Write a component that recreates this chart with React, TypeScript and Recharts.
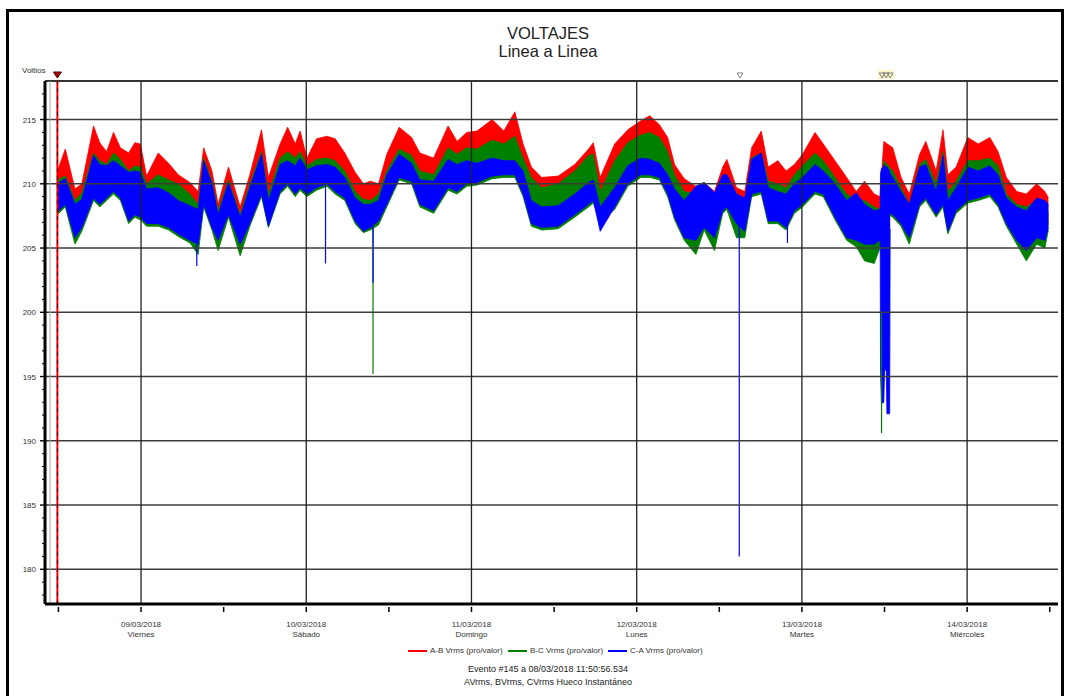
import React from 'react';
import { ComposedChart, Area, Line, XAxis, YAxis, ReferenceLine } from 'recharts';

// hours counted from 08/03/2018 00:00
const hours = [
  11.85, 13.0, 14.4, 15.4, 17.1, 18.0, 19.0, 20.0, 21.0, 22.2,
  23.1, 23.9, 24.8, 26.5, 28.0, 29.4, 31.1, 32.3, 33.1, 34.3,
  35.2, 36.7, 38.4, 39.8, 41.5, 42.5, 44.2, 45.3, 46.4, 47.1,
  48.1, 49.5, 51.0, 52.2, 53.6, 55.1, 56.3, 57.3, 58.5, 59.7,
  61.5, 63.3, 64.5, 66.5, 68.6, 69.9, 71.3, 72.8, 75.0, 76.7,
  78.3, 79.5, 80.7, 82.2, 84.6, 87.0, 89.0, 89.7, 90.7, 92.8,
  94.7, 96.6, 97.9, 99.3, 100.5, 101.5, 102.9, 104.6, 105.8, 107.3,
  108.5, 109.1, 110.5, 111.7, 112.7, 114.1, 115.1, 116.5, 117.7, 118.9,
  120.1, 121.9, 123.1, 124.8, 126.5, 127.9, 129.1, 130.5, 131.35, 131.9,
  133.2, 134.4, 135.6, 137.1, 138.0, 139.5, 140.5, 141.2, 142.4, 144.1,
  145.6, 147.3, 148.5, 149.7, 151.2, 152.6, 154.1, 155.3, 155.8,
];

// A-B envelope
const abHigh = [
  211.0, 212.7, 209.6, 210.0, 214.5, 213.2, 212.5, 214.0, 212.8, 212.4,
  213.2, 213.1, 210.6, 212.4, 211.6, 210.7, 210.1, 209.4, 212.8, 211.0,
  208.4, 211.3, 208.2, 210.7, 214.2, 210.5, 213.1, 214.4, 213.1, 214.1,
  212.0, 213.5, 213.7, 213.5, 212.4, 210.9, 210.0, 210.2, 210.0, 212.3,
  214.4, 213.6, 212.4, 212.0, 214.5, 213.3, 214.0, 214.1, 215.0, 214.1,
  215.6, 213.1, 211.3, 210.5, 210.6, 211.5, 212.7, 213.2, 210.5, 213.1,
  214.2, 214.9, 215.3, 214.6, 213.6, 211.5, 210.4, 209.8, 210.1, 209.4,
  211.3, 211.9, 209.7, 209.4, 212.8, 214.1, 211.3, 211.8, 211.0, 211.5,
  212.3, 214.0, 213.1, 211.8, 210.5, 209.4, 210.2, 209.2, 209.0, 213.3,
  212.8, 210.5, 209.2, 212.3, 213.3, 211.0, 214.2, 210.7, 211.3, 213.6,
  213.1, 213.6, 212.5, 210.5, 209.4, 209.2, 210.0, 209.4, 208.9,
];
const abLow = [
  209.6, 209.9, 208.0, 208.5, 211.6, 211.0, 210.8, 211.6, 211.1, 210.2,
  210.6, 210.5, 209.2, 209.9, 209.5, 209.2, 208.4, 207.6, 211.2, 209.4,
  207.1, 209.5, 206.8, 209.2, 211.7, 208.4, 211.2, 211.7, 211.2, 211.7,
  210.6, 211.1, 211.2, 211.0, 210.2, 208.6, 208.0, 207.9, 208.4, 210.2,
  211.9, 211.4, 210.2, 209.9, 212.0, 211.5, 212.0, 211.9, 212.6, 212.3,
  212.9, 211.2, 209.7, 208.9, 209.2, 210.2, 211.4, 211.5, 208.6, 211.0,
  212.4, 213.0, 213.2, 212.8, 211.7, 209.9, 208.6, 208.4, 208.6, 207.8,
  209.7, 209.9, 208.4, 207.9, 211.2, 211.6, 209.4, 209.2, 208.9, 209.9,
  210.6, 211.6, 211.0, 209.7, 208.4, 207.9, 207.9, 207.4, 207.2, 211.0,
  210.2, 208.9, 207.6, 210.7, 211.1, 209.2, 211.7, 208.6, 209.4, 211.0,
  211.0, 211.2, 210.6, 208.4, 207.6, 207.4, 207.9, 207.9, 206.8,
];

// B-C envelope
const bcHigh = [
  210.3, 210.6, 208.7, 209.3, 212.4, 211.8, 211.5, 212.4, 211.9, 211.0,
  211.4, 211.3, 210.0, 210.7, 210.3, 210.0, 209.2, 208.4, 212.0, 210.2,
  207.9, 210.3, 207.6, 210.0, 212.5, 209.2, 212.0, 212.5, 212.0, 212.5,
  211.4, 211.9, 212.0, 211.8, 211.0, 209.4, 208.8, 208.7, 209.2, 211.0,
  212.7, 212.2, 211.0, 210.7, 212.8, 212.3, 212.8, 212.7, 213.4, 213.1,
  213.7, 212.0, 210.5, 209.7, 210.0, 211.0, 212.2, 212.3, 209.4, 211.8,
  213.2, 213.8, 214.0, 213.6, 212.5, 210.7, 209.4, 209.2, 209.4, 208.6,
  210.5, 210.7, 209.2, 208.7, 212.0, 212.4, 210.2, 210.0, 209.7, 210.7,
  211.4, 212.4, 211.8, 210.5, 209.2, 208.7, 208.7, 208.2, 208.0, 211.8,
  211.0, 209.7, 208.4, 211.5, 211.9, 210.0, 212.5, 209.4, 210.2, 211.8,
  211.8, 212.0, 211.4, 209.2, 208.4, 208.2, 208.7, 208.7, 207.6,
];
const bcLow = [
  207.6, 208.2, 205.3, 206.3, 208.7, 208.2, 208.7, 209.2, 208.7, 206.9,
  207.4, 207.2, 206.7, 206.7, 206.4, 205.9, 205.4, 204.5, 208.2, 206.4,
  204.8, 207.4, 204.4, 206.7, 209.0, 206.6, 209.2, 209.8, 209.0, 209.5,
  209.0, 209.5, 209.8, 209.2, 208.7, 206.9, 206.2, 206.4, 206.8, 208.2,
  210.3, 210.0, 208.2, 207.7, 209.5, 209.2, 209.8, 209.9, 210.4, 210.5,
  210.5, 209.0, 206.7, 206.4, 206.5, 207.4, 208.2, 208.5, 207.1, 208.0,
  209.8, 210.5, 210.5, 210.3, 209.0, 207.2, 205.6, 204.5, 206.4, 204.8,
  207.7, 208.0, 205.8, 205.8, 209.0, 209.2, 206.9, 206.9, 206.4, 207.7,
  208.2, 209.2, 209.0, 207.2, 205.6, 205.1, 204.0, 203.8, 205.0, 207.8,
  207.4, 206.7, 205.3, 208.2, 208.7, 207.4, 208.2, 206.1, 207.7, 208.5,
  208.7, 209.0, 208.2, 206.7, 205.3, 204.0, 205.3, 205.0, 206.4,
];

// C-A envelope
const caHigh = [
  210.0, 210.4, 208.4, 208.8, 212.2, 211.5, 211.4, 211.8, 211.4, 210.9,
  211.0, 210.9, 209.6, 209.7, 209.3, 208.7, 208.3, 208.0, 211.8, 210.0,
  207.6, 210.1, 207.4, 209.7, 212.3, 208.7, 211.5, 211.8, 211.4, 212.0,
  211.1, 211.4, 211.5, 211.3, 210.5, 208.9, 208.4, 208.4, 208.7, 210.7,
  212.3, 211.6, 210.3, 210.2, 211.9, 211.5, 211.8, 211.6, 212.0, 211.8,
  211.8, 211.0, 208.7, 208.2, 208.3, 209.2, 210.1, 210.3, 208.2, 209.7,
  211.4, 212.0, 211.9, 211.6, 210.7, 209.6, 208.7, 209.8, 210.1, 209.3,
  210.7, 210.7, 209.2, 208.9, 211.9, 212.4, 209.7, 209.4, 209.2, 210.0,
  210.5, 211.5, 211.0, 210.0, 208.7, 209.3, 208.4, 207.9, 208.0, 211.5,
  210.5, 209.4, 208.4, 211.3, 211.5, 209.4, 212.2, 208.7, 209.7, 211.3,
  211.0, 211.4, 210.7, 208.9, 208.2, 207.9, 208.9, 208.7, 208.4,
];
const caLow = [
  207.8, 208.4, 205.8, 206.6, 208.9, 208.4, 208.9, 209.4, 208.9, 207.1,
  207.6, 207.4, 206.9, 206.9, 206.6, 206.1, 205.6, 205.3, 208.4, 206.6,
  205.6, 207.6, 205.3, 206.9, 209.2, 206.7, 209.4, 210.0, 209.2, 209.7,
  209.2, 209.7, 210.0, 209.4, 208.9, 207.1, 206.3, 206.6, 207.1, 208.4,
  210.5, 210.2, 208.4, 207.9, 209.7, 209.4, 210.0, 210.1, 210.6, 210.7,
  210.7, 209.2, 206.9, 206.6, 206.7, 207.6, 208.4, 208.7, 206.3, 208.2,
  210.0, 210.7, 210.7, 210.5, 209.2, 207.4, 205.8, 205.6, 206.6, 205.8,
  207.9, 208.2, 206.9, 206.3, 209.2, 209.4, 207.1, 207.1, 206.6, 207.9,
  208.4, 209.4, 209.2, 207.4, 205.8, 205.6, 205.3, 205.3, 205.6, 208.0,
  207.6, 206.9, 205.8, 208.4, 208.9, 207.6, 208.4, 206.3, 207.9, 208.7,
  208.9, 209.2, 208.4, 206.9, 205.6, 204.8, 205.8, 205.6, 206.6,
];

// C-A sag on 13/03 evening
const caDipHours = [131.37, 131.42, 131.55, 131.9, 132.0, 132.25, 132.35, 132.75, 132.82];
const caDipLow = [206.0, 195.5, 192.9, 193.0, 195.5, 195.5, 192.1, 192.1, 206.5];
const caDipHigh = [208.5, 210.8, 211.2, 211.3, 211.3, 211.3, 211.3, 211.0, 210.5];

// single-sample drops: [hour, from, to]
const bcSpikes = [
  [57.7, 207.0, 195.2],
  [131.57, 200.0, 190.6],
];
const caSpikes = [
  [32.1, 207.0, 203.6],
  [50.8, 210.0, 203.8],
  [57.7, 208.0, 202.3],
  [110.9, 207.5, 181.0],
  [117.9, 207.0, 205.4],
];

const halfDayTicks = [12, 24, 36, 48, 60, 72, 84, 96, 108, 120, 132, 144, 156];
const dayTicks = [24, 48, 72, 96, 120, 144];
const dayDates = ['09/03/2018', '10/03/2018', '11/03/2018', '12/03/2018', '13/03/2018', '14/03/2018'];
const dayNames = ['Viernes', 'Sábado', 'Domingo', 'Lunes', 'Martes', 'Miércoles'];
const voltGrid = [180, 185, 190, 195, 200, 205, 210, 215];
const voltTicks = Array.from({ length: 40 }, (_, i) => 178 + i);

const eventHour = 11.85;
const markerHours = [111.0, 131.66, 132.24, 132.82];
const glowHours = [131.66, 132.24, 132.82];

const series = [
  { key: 'ab', name: 'A-B Vrms (pro/valor)', color: '#ff0000' },
  { key: 'bc', name: 'B-C Vrms (pro/valor)', color: '#008000' },
  { key: 'ca', name: 'C-A Vrms (pro/valor)', color: '#0000ff' },
];

const bandRows = hours.map((t, i) => ({
  t,
  ab: [abLow[i], abHigh[i]],
  bc: [bcLow[i], bcHigh[i]],
  ca: [caLow[i], caHigh[i]],
}));
const dipRows = caDipHours.map((t, i) => ({ t, ca: [caDipLow[i], caDipHigh[i]] }));

const FONT = '"Liberation Sans", Arial, sans-serif';

function VoltTick(props: any) {
  const { x, y, payload } = props;
  const major = payload.value % 5 === 0;
  return (
    <g>
      <line x1={major ? x - 5 : x - 3} x2={x} y1={y} y2={y} stroke="#000" strokeWidth={major ? 1.4 : 1} />
      {major && (
        <text x={x - 9} y={y + 3} textAnchor="end" fontSize={8} fill="#333" fontFamily={FONT}>
          {payload.value}
        </text>
      )}
    </g>
  );
}

function TimeTick(props: any) {
  const { x, y, payload } = props;
  const idx = dayTicks.indexOf(payload.value);
  return (
    <g>
      <line x1={x} x2={x} y1={y + 3} y2={y + 8} stroke="#000" strokeWidth={1.5} />
      {idx >= 0 && (
        <text x={x} y={y + 23} textAnchor="middle" fontSize={8} fill="#333" fontFamily={FONT}>
          {dayDates[idx]}
        </text>
      )}
      {idx >= 0 && (
        <text x={x} y={y + 33} textAnchor="middle" fontSize={8} fill="#333" fontFamily={FONT}>
          {dayNames[idx]}
        </text>
      )}
    </g>
  );
}

function EventMark(props: any) {
  const vb = props.viewBox || {};
  const x = vb.x;
  const y = vb.y;
  return <path d={`M${x - 4},${y - 9} L${x + 4},${y - 9} L${x},${y - 3} Z`} fill="#b00000" stroke="#400" strokeWidth={1} />;
}

function GlowMark(props: any) {
  const vb = props.viewBox || {};
  return <rect x={vb.x - 4} y={vb.y - 11} width={8} height={9} fill="#fdf6c8" />;
}

function GrayMark(props: any) {
  const vb = props.viewBox || {};
  const x = vb.x;
  const y = vb.y;
  return <path d={`M${x - 3},${y - 8} L${x + 3},${y - 8} L${x},${y - 3} Z`} fill="none" stroke="#808080" strokeWidth={1} />;
}

export default function App() {
  return (
    <div style={{ position: 'fixed', left: 0, top: 0, width: 1068, height: 696, background: '#fff', overflow: 'hidden', fontFamily: FONT }}>
      <div style={{ position: 'absolute', left: 6, top: 9, width: 1058, height: 720, border: '3px solid #000', boxSizing: 'border-box' }} />
      <div style={{ position: 'absolute', left: 398, top: 24, width: 300, textAlign: 'center', fontSize: 16.5, lineHeight: '18px', color: '#222' }}>
        <div>VOLTAJES</div>
        <div>Linea a Linea</div>
      </div>
      <div style={{ position: 'absolute', left: 22, top: 66, fontSize: 8, color: '#333' }}>Voltios</div>

      <div style={{ position: 'absolute', left: 0, top: 0 }}>
        <ComposedChart width={1068} height={696} margin={{ top: 81, right: 10, bottom: 52, left: 0 }}>
          <XAxis
            dataKey="t"
            type="number"
            domain={[10.05, 157.2]}
            ticks={halfDayTicks}
            interval={0}
            allowDataOverflow
            height={40}
            tickSize={0}
            tickMargin={0}
            tickLine={false}
            axisLine={{ stroke: '#000', strokeWidth: 3 }}
            tick={<TimeTick />}
          />
          <YAxis
            type="number"
            domain={[177.3, 218]}
            ticks={voltTicks}
            interval={0}
            allowDataOverflow
            width={45}
            tickSize={0}
            tickMargin={0}
            tickLine={false}
            axisLine={{ stroke: '#000', strokeWidth: 3 }}
            tick={<VoltTick />}
          />

          {series.map((s) => (
            <Area
              key={s.key}
              data={bandRows}
              type="linear"
              dataKey={s.key}
              stroke={s.color}
              strokeWidth={0.8}
              fill={s.color}
              fillOpacity={1}
              dot={false}
              activeDot={false}
              isAnimationActive={false}
            />
          ))}
          {bcSpikes.map(([t, a, b], i) => (
            <Line
              key={`bc-${i}`}
              data={[{ t, v: a }, { t, v: b }]}
              dataKey="v"
              stroke="#008000"
              strokeWidth={1.2}
              dot={false}
              activeDot={false}
              isAnimationActive={false}
            />
          ))}
          <Area
            data={dipRows}
            type="linear"
            dataKey="ca"
            stroke="#0000ff"
            strokeWidth={0.8}
            fill="#0000ff"
            fillOpacity={1}
            dot={false}
            activeDot={false}
            isAnimationActive={false}
          />
          {caSpikes.map(([t, a, b], i) => (
            <Line
              key={`ca-${i}`}
              data={[{ t, v: a }, { t, v: b }]}
              dataKey="v"
              stroke="#0000ff"
              strokeWidth={1.2}
              dot={false}
              activeDot={false}
              isAnimationActive={false}
            />
          ))}

          {voltGrid.map((v) => (
            <ReferenceLine key={`h-${v}`} y={v} stroke="#3c3c3c" strokeWidth={1.4} />
          ))}
          {dayTicks.map((t) => (
            <ReferenceLine key={`v-${t}`} x={t} stroke="#222" strokeWidth={1.3} />
          ))}
          <ReferenceLine y={218} stroke="#333" strokeWidth={2} />
          <ReferenceLine x={10.78} stroke="#aaa" strokeWidth={1} />
          <ReferenceLine x={eventHour} stroke="#ff0000" strokeWidth={2} label={{ content: EventMark }} />
          <ReferenceLine x={eventHour} stroke="#5a0000" strokeWidth={1} strokeDasharray="4 4" />
          {glowHours.map((t) => (
            <ReferenceLine key={`g-${t}`} x={t} stroke="none" label={{ content: GlowMark }} />
          ))}
          {markerHours.map((t) => (
            <ReferenceLine key={`m-${t}`} x={t} stroke="none" label={{ content: GrayMark }} />
          ))}
        </ComposedChart>
      </div>

      <div style={{ position: 'absolute', left: 408, top: 645, display: 'flex', fontSize: 8, lineHeight: '12px', color: '#333' }}>
        {series.map((s) => (
          <div key={s.key} style={{ width: 100, display: 'flex', alignItems: 'center' }}>
            <svg width={22} height={12} style={{ display: 'block' }}>
              <line x1={0} x2={19} y1={6} y2={6} stroke={s.color} strokeWidth={2} />
            </svg>
            <span>{s.name}</span>
          </div>
        ))}
      </div>
      <div style={{ position: 'absolute', left: 398, top: 663, width: 300, textAlign: 'center', fontSize: 9, lineHeight: '12.5px', color: '#222' }}>
        <div>Evento #145 a 08/03/2018 11:50:56.534</div>
        <div>AVrms, BVrms, CVrms Hueco Instantáneo</div>
      </div>
    </div>
  );
}
